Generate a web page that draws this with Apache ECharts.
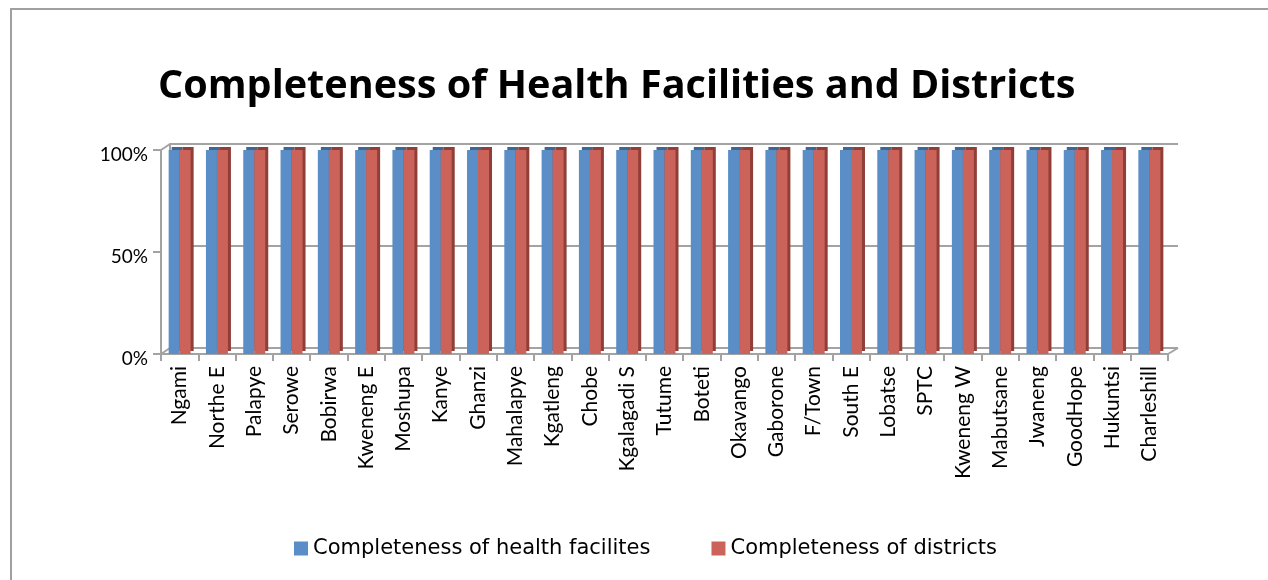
<!DOCTYPE html>
<html>
<head>
<meta charset="utf-8">
<script src="https://cdn.jsdelivr.net/npm/echarts@6/dist/echarts.min.js"></script>
<style>
	html, body { margin: 0; padding: 0; background: #fff; }
	#chart { width: 1268px; height: 580px; }
</style>
</head>
<body>
<div id="chart"></div>
<script>
var categories = ["Ngami", "Northe E", "Palapye", "Serowe", "Bobirwa", "Kweneng E", "Moshupa", "Kanye", "Ghanzi",
	"Mahalapye", "Kgatleng", "Chobe", "Kgalagadi S", "Tutume", "Boteti", "Okavango", "Gaborone", "F/Town",
	"South E", "Lobatse", "SPTC", "Kweneng W", "Mabutsane", "Jwaneng", "GoodHope", "Hukuntsi", "Charleshill"];
var facilityValues = [100, 100, 100, 100, 100, 100, 100, 100, 100, 100, 100, 100, 100, 100, 100, 100, 100, 100,
	100, 100, 100, 100, 100, 100, 100, 100, 100];
var districtValues = [100, 100, 100, 100, 100, 100, 100, 100, 100, 100, 100, 100, 100, 100, 100, 100, 100, 100,
	100, 100, 100, 100, 100, 100, 100, 100, 100];
var seriesNames = ["Completeness of health facilites", "Completeness of districts"];
var yTicks = [0, 50, 100];

var font = "Lato, 'Open Sans', sans-serif";
var wideFont = "'DejaVu Sans', sans-serif";
var lineGray = "#a3a3a3";

var myChart = echarts.init(document.getElementById("chart"));
myChart.setOption({
	animation: false,
	title: {
		text: "Completeness of Health Facilities and Districts",
		left: 153,
		top: 62,
		textStyle: { fontFamily: "'Open Sans', sans-serif", fontWeight: "bold", fontSize: 39.6, color: "#000" },
	},
	legend: {
		left: 289,
		top: 533,
		itemWidth: 14,
		itemHeight: 14,
		itemGap: 61,
		icon: "rect",
		textStyle: { fontFamily: wideFont, fontSize: 21, color: "#000" },
		data: seriesNames,
	},
	grid: [
		// front plane
		{ left: 161, right: 100, top: 150, bottom: 226 },
		// back wall
		{ left: 170, right: 90, top: 144, bottom: 232 },
	],
	xAxis: [
		{
			type: "category",
			gridIndex: 0,
			data: categories,
			axisLine: { show: true, lineStyle: { color: lineGray, width: 2 } },
			axisTick: { show: true, length: 7, lineStyle: { color: lineGray, width: 2 } },
			axisLabel: { rotate: 90, margin: 12, fontFamily: font, fontSize: 21, color: "#000", interval: 0 },
		},
		{
			type: "category",
			gridIndex: 1,
			data: categories,
			axisLine: { show: false },
			axisTick: { show: false },
			axisLabel: { show: false },
		},
	],
	yAxis: [
		{
			type: "value",
			gridIndex: 0,
			min: 0,
			max: 100,
			interval: 50,
			axisLine: { show: true, lineStyle: { color: lineGray, width: 2 } },
			axisTick: { show: true, length: 8, lineStyle: { color: lineGray, width: 2 } },
			splitLine: { show: false },
			axisLabel: {
				margin: 13,
				verticalAlign: "top",
				lineHeight: 10,
				fontFamily: font,
				fontSize: 19,
				color: "#000",
				formatter: function (v) { return yTicks.indexOf(v) >= 0 ? v + "%" : ""; },
			},
		},
		{
			type: "value",
			gridIndex: 1,
			min: 0,
			max: 100,
			interval: 50,
			axisLine: { show: true, lineStyle: { color: lineGray, width: 2 } },
			axisTick: { show: false },
			axisLabel: { show: false },
			splitLine: { show: true, lineStyle: { color: lineGray, width: 2 } },
		},
	],
	series: [
		{
			name: seriesNames[0],
			type: "bar",
			xAxisIndex: 0,
			yAxisIndex: 0,
			data: facilityValues,
			barWidth: 11,
			barGap: "0%",
			itemStyle: {
				color: "#5b8ec7",
				shadowColor: "#3e6796",
				shadowOffsetX: 3,
				shadowOffsetY: -3,
				shadowBlur: 0,
			},
		},
		{
			name: seriesNames[1],
			type: "bar",
			xAxisIndex: 0,
			yAxisIndex: 0,
			data: districtValues,
			barWidth: 11,
			barGap: "0%",
			itemStyle: {
				color: "#cc635a",
				shadowColor: "#8f3e38",
				shadowOffsetX: 3,
				shadowOffsetY: -3,
				shadowBlur: 0,
			},
		},
	],
});

// 3D box edges joining the front plane to the back wall, plus the outer frame
var n = categories.length;
var f0 = myChart.convertToPixel({ gridIndex: 0 }, [0, 0]);
var fTop = myChart.convertToPixel({ gridIndex: 0 }, [0, 100]);
var b0 = myChart.convertToPixel({ gridIndex: 1 }, [0, 0]);
var bTop = myChart.convertToPixel({ gridIndex: 1 }, [0, 100]);
var band = myChart.getModel().getComponent("xAxis", 0).axis.getBandWidth();
var bandBack = myChart.getModel().getComponent("xAxis", 1).axis.getBandWidth();
var fx0 = f0[0] - band / 2, bx0 = b0[0] - bandBack / 2;
var fx1 = fx0 + band * n, bx1 = bx0 + bandBack * n;
var edge = { stroke: lineGray, lineWidth: 2 };
myChart.setOption({
	graphic: [
		{ type: "line", z: 1, shape: { x1: fx0, y1: fTop[1], x2: bx0, y2: bTop[1] }, style: edge },
		{ type: "line", z: 1, shape: { x1: fx0, y1: f0[1], x2: bx0, y2: b0[1] }, style: edge },
		{ type: "line", z: 1, shape: { x1: fx1, y1: f0[1], x2: bx1, y2: b0[1] }, style: edge },
		{ type: "rect", z: 0, shape: { x: 11, y: 9, width: 1300, height: 620 }, style: { fill: "none", stroke: "#a0a0a0", lineWidth: 2 } },
	],
});
</script>
</body>
</html>
